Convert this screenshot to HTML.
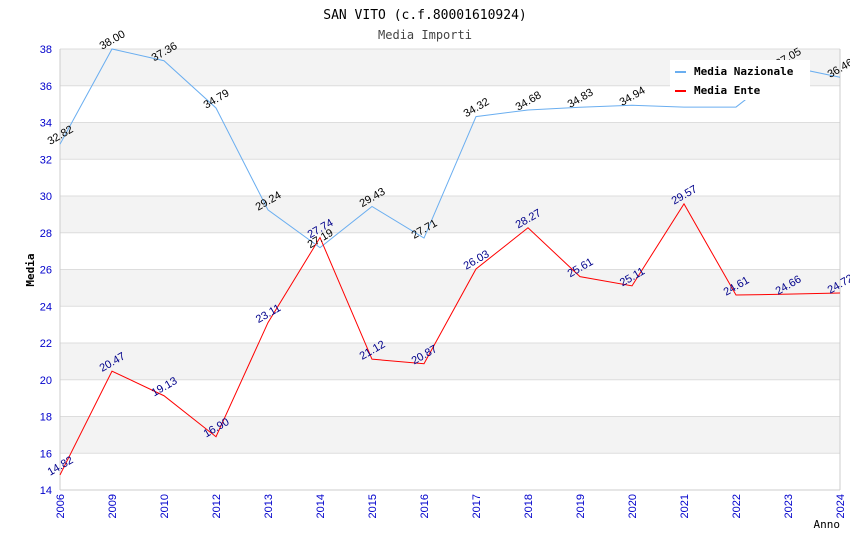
<!DOCTYPE html>
<html><head><meta charset="utf-8"><style>
body{margin:0;background:#fff}
svg{display:block;font-family:"DejaVu Sans Mono","Liberation Mono",monospace}
</style></head><body>
<svg id="c" width="850" height="550"></svg>
<script>
const categories=["2006","2009","2010","2012","2013","2014","2015","2016","2017","2018","2019","2020","2021","2022","2023","2024"];
const nazionale=[32.82,38.00,37.36,34.79,29.24,27.19,29.43,27.71,34.32,34.68,34.83,34.94,34.84,34.84,37.05,36.46];
const nazLabels=["32.82","38.00","37.36","34.79","29.24","27.19","29.43","27.71","34.32","34.68","34.83","34.94","","","37.05","36.46"];
const ente=[14.82,20.47,19.13,16.90,23.11,27.74,21.12,20.87,26.03,28.27,25.61,25.11,29.57,24.61,24.66,24.72];
const yTicks=[14,16,18,20,22,24,26,28,30,32,34,36,38];
const svg=document.getElementById('c');
const NS='http://www.w3.org/2000/svg';
const L=60,R=840,T=49,B=490,ymin=14,ymax=38;
const x=i=>L+i*(R-L)/(categories.length-1);
const y=v=>B-(v-ymin)*(B-T)/(ymax-ymin);
function mk(t,a,p){const e=document.createElementNS(NS,t);for(const k in a)e.setAttribute(k,a[k]);(p||svg).appendChild(e);return e;}
for(let i=0;i<yTicks.length-1;i++){
 if(i%2===1){const r=mk('rect',{x:L,y:y(yTicks[i+1]),width:R-L,height:y(yTicks[i])-y(yTicks[i+1]),fill:'#f3f3f3'});
 
 }
}
yTicks.forEach(v=>{
 const g=mk('line',{x1:L,x2:R,y1:y(v),y2:y(v),stroke:'#ddd'});
 
 
 const t=mk('text',{x:L-8,y:y(v)+4,'text-anchor':'end','font-size':11,fill:'#00c','font-family':'Liberation Sans,sans-serif'});t.textContent=v;
 
 
});
mk('line',{x1:L,x2:L,y1:T,y2:B,stroke:'#ccc'});
mk('line',{x1:R,x2:R,y1:T,y2:B,stroke:'#ccc'});
mk('line',{x1:L,x2:R,y1:B,y2:B,stroke:'#ccc'});
categories.forEach((c,i)=>{
 const t=mk('text',{transform:`translate(${x(i)+4},${B+4}) rotate(-90)`,'text-anchor':'end','font-size':11,fill:'#00c','font-family':'Liberation Sans,sans-serif'});t.textContent=c;
 
 
});
function series(vals,color,name){
 const p=mk('polyline',{points:vals.map((v,i)=>x(i)+','+y(v)).join(' '),fill:'none',stroke:color,'stroke-width':1});
 
 
}
series(nazionale,'#6aaef0','line-media-nazionale');
series(ente,'#f00','line-media-ente');
function labels(vals,txt,color,name){
 vals.forEach((v,i)=>{if(!txt[i])return;
  const t=mk('text',{transform:`translate(${x(i)+2},${y(v)-6}) rotate(-30)`,'text-anchor':'middle','font-size':11,fill:color,'font-family':'Liberation Sans,sans-serif'});t.textContent=txt[i];
  
  
 });
}
labels(nazionale,nazLabels,'#000','label-nazionale');
labels(ente,ente.map(v=>v.toFixed(2)),'#00008b','label-ente');
const lg=mk('rect',{x:670,y:60,width:140,height:40,fill:'#fff'});


mk('line',{x1:675,x2:686,y1:72,y2:72,stroke:'#6aaef0','stroke-width':2});
mk('line',{x1:675,x2:686,y1:91,y2:91,stroke:'#f00','stroke-width':2});
let t=mk('text',{x:694,y:75,'font-size':11,'font-weight':'bold'});t.textContent='Media Nazionale';


t=mk('text',{x:694,y:94,'font-size':11,'font-weight':'bold'});t.textContent='Media Ente';


t=mk('text',{x:425,y:19,'text-anchor':'middle','font-size':13});t.textContent='SAN VITO (c.f.80001610924)';


t=mk('text',{x:425,y:39,'text-anchor':'middle','font-size':12,fill:'#444'});t.textContent='Media Importi';


t=mk('text',{transform:'translate(34,270) rotate(-90)','text-anchor':'middle','font-size':11,'font-weight':'bold'});t.textContent='Media';


t=mk('text',{x:840,y:528,'text-anchor':'end','font-size':11});t.textContent='Anno';


</script>
</body></html>
